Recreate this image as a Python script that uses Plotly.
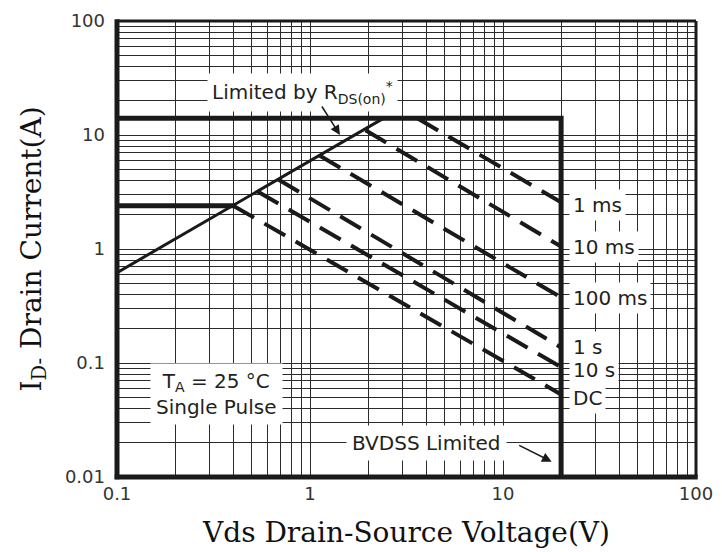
import plotly.graph_objects as go

# ---------------- data ----------------
x_tick_values = [0.1, 1, 10, 100]
x_tick_labels = ["0.1", "1", "10", "100"]
y_tick_values = [0.01, 0.1, 1, 10, 100]
y_tick_labels = ["0.01", "0.1", "1", "10", "100"]

# package / pulse current limit and BVDSS limit
pulse_limit_v = [0.1, 20, 20]
pulse_limit_i = [14, 14, 0.01]
# DC current limit
dc_limit_v = [0.1, 0.40]
dc_limit_i = [2.4, 2.4]
# R_DS(on) limit
rds_v = [0.1, 2.4]
rds_i = [0.62, 14]

# pulse-width lines
pulse_names = ["1 ms", "10 ms", "100 ms", "1 s", "10 s", "DC"]
pulse_v_start = [3.6, 1.94, 1.12, 0.685, 0.535, 0.40]
pulse_i_start = [14, 11.0, 6.6, 4.07, 3.2, 2.4]
pulse_v_end = [20, 20, 20, 20, 20, 20]
pulse_i_end = [2.57, 1.05, 0.376, 0.137, 0.092, 0.053]

# ---------------- figure ----------------
INK = "#1a1a1a"
TXT = "#231f20"
LABEL_FONT = dict(family="DejaVu Sans", size=20, color=TXT)
TITLE_FONT = dict(family="DejaVu Serif", size=28, color="#111111")

fig = go.Figure()

fig.add_trace(go.Scatter(x=pulse_limit_v, y=pulse_limit_i, mode="lines",
                         line=dict(color=INK, width=5), hoverinfo="skip"))
fig.add_trace(go.Scatter(x=dc_limit_v, y=dc_limit_i, mode="lines",
                         line=dict(color=INK, width=5), hoverinfo="skip"))
fig.add_trace(go.Scatter(x=rds_v, y=rds_i, mode="lines",
                         line=dict(color=INK, width=3), hoverinfo="skip"))
for name, v0, i0, v1, i1 in zip(pulse_names, pulse_v_start, pulse_i_start,
                                pulse_v_end, pulse_i_end):
    fig.add_trace(go.Scatter(x=[v0, v1], y=[i0, i1], mode="lines", name=name,
                             line=dict(color=INK, width=4, dash="24px,12px"),
                             hoverinfo="skip"))


def grid_ticks(decades, labels_at, labels):
    vals, texts = [], []
    lab = dict(zip(labels_at, labels))
    for d in decades:
        for k in range(1, 10):
            v = round(k * 10 ** d, 6)
            vals.append(v)
            texts.append(lab.get(v, ""))
    top = round(10 ** (decades[-1] + 1), 6)
    vals.append(top)
    texts.append(lab.get(top, ""))
    return vals, texts


xv, xt = grid_ticks([-1, 0, 1], x_tick_values, x_tick_labels)
yv, yt = grid_ticks([-2, -1, 0, 1], y_tick_values, y_tick_labels)

fig.update_layout(
    width=722, height=552,
    margin=dict(l=117, r=26, t=21, b=75),
    plot_bgcolor="white", paper_bgcolor="white",
    showlegend=False,
)
fig.update_xaxes(
    type="log", range=[-1, 2], tickvals=xv, ticktext=xt,
    showgrid=True, gridcolor="#2b2b2b", gridwidth=1.3,
    zeroline=False, showline=False, ticks="", automargin=False,
    ticklabelstandoff=4,
    tickfont=dict(family="DejaVu Sans", size=18, color="#333333"),
    title=dict(text="Vds Drain-Source Voltage(V)", font=TITLE_FONT, standoff=19),
)
fig.update_yaxes(
    type="log", range=[-2, 2], tickvals=yv, ticktext=yt,
    showgrid=True, gridcolor="#2b2b2b", gridwidth=1.3,
    zeroline=False, showline=False, ticks="", automargin=False,
    ticklabelstandoff=11,
    tickfont=dict(family="DejaVu Sans", size=18, color="#333333"),
    title=dict(text="I<sub>D-</sub> Drain Current(A)", font=TITLE_FONT, standoff=15),
)

# frame
for (x0, y0, x1, y1, w) in [(0, -0.005, 0, 1.004, 5), (-0.004, 0, 1.003, 0, 5),
                            (0, 1, 1, 1, 3), (1, 0, 1, 1, 3)]:
    fig.add_shape(type="line", xref="paper", yref="paper", x0=x0, y0=y0, x1=x1, y1=y1,
                  line=dict(color=INK, width=w), layer="above")

# boxed labels
fig.add_annotation(xref="paper", yref="paper", x=0.3204, y=0.8432,
                   xanchor="center", yanchor="middle",
                   text="Limited by R<sub>DS(on)</sub><sup>*</sup>",
                   showarrow=False, bgcolor="white", borderpad=4,
                   font=LABEL_FONT)
fig.add_annotation(xref="paper", yref="paper", x=0.171, y=0.181,
                   xanchor="center", yanchor="middle",
                   text="T<sub>A</sub> = 25 °C<br>Single Pulse",
                   showarrow=False, bgcolor="white", borderpad=5,
                   font=LABEL_FONT)
fig.add_annotation(xref="paper", yref="paper", x=0.5354, y=0.0746,
                   xanchor="center", yanchor="middle",
                   text="BVDSS Limited",
                   showarrow=False, bgcolor="white", borderpad=5,
                   font=LABEL_FONT)

label_y = [0.5965, 0.5044, 0.3925, 0.2851, 0.2346, 0.1732]
for name, yp in zip(pulse_names, label_y):
    fig.add_annotation(xref="paper", yref="paper", x=0.7807, y=yp,
                       xanchor="left", yanchor="middle",
                       text=name, showarrow=False, bgcolor="white", borderpad=3,
                       font=LABEL_FONT)

# arrows
fig.add_annotation(xref="paper", yref="paper", x=0.3851, y=0.7500, text="",
                   showarrow=True, ax=-19, ay=-30, arrowhead=2, arrowsize=1.3,
                   arrowwidth=1.5, arrowcolor=INK)
fig.add_annotation(xref="paper", yref="paper", x=0.7508, y=0.0336, text="",
                   showarrow=True, ax=-34, ay=-17, arrowhead=2, arrowsize=1.3,
                   arrowwidth=1.5, arrowcolor=INK)

fig.write_html("out.html", config={"displayModeBar": False},
               post_script="document.body.style.margin='0';")
